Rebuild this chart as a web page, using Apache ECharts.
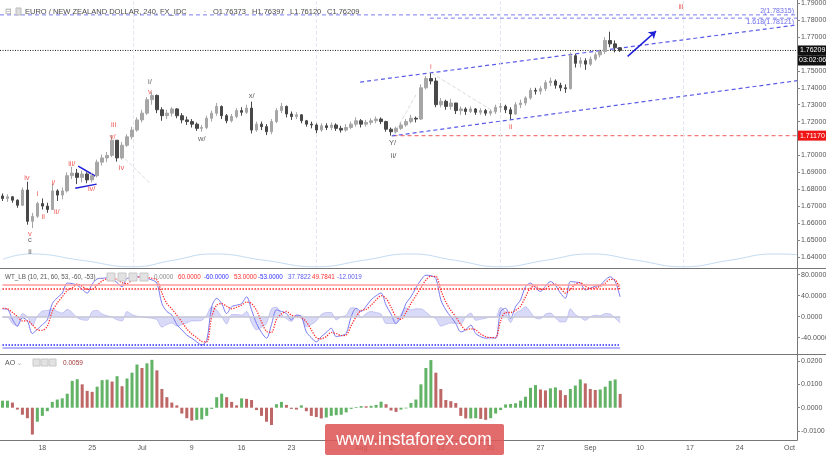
<!DOCTYPE html>
<html>
<head>
<meta charset="utf-8">
<script src="https://cdn.jsdelivr.net/npm/echarts@6/dist/echarts.min.js"></script>
<style>
html, body { margin: 0; padding: 0; background: #fff; }
#chart { width: 826px; height: 455px; }
</style>
</head>
<body>
<div id="chart"></div>
<script>
// --- price bars (12h buckets, open = previous close) ---
const firstOpen = 1.6760;
const closes = [
  1.6745, 1.6755, 1.6735, 1.6705, 1.6795, 1.6610, 1.6640, 1.6715, 1.6700, 1.6680,
  1.6790, 1.6765, 1.6790, 1.6880, 1.6895, 1.6870, 1.6890, 1.6855, 1.6880, 1.6960,
  1.6985, 1.7000, 1.7090, 1.6985, 1.7060, 1.7110, 1.7150, 1.7210, 1.7250, 1.7330,
  1.7355, 1.7270, 1.7235, 1.7250, 1.7275, 1.7235, 1.7210, 1.7200, 1.7185, 1.7160,
  1.7165, 1.7220, 1.7250, 1.7290, 1.7235, 1.7205, 1.7230, 1.7265, 1.7255, 1.7280,
  1.7150, 1.7185, 1.7170, 1.7140, 1.7200, 1.7265, 1.7290, 1.7245, 1.7230, 1.7240,
  1.7205, 1.7185, 1.7180, 1.7150, 1.7175, 1.7165, 1.7180, 1.7160, 1.7150, 1.7165,
  1.7185, 1.7205, 1.7185, 1.7195, 1.7205, 1.7215, 1.7200, 1.7155, 1.7140, 1.7160,
  1.7180, 1.7200, 1.7220, 1.7215, 1.7400, 1.7455, 1.7440, 1.7300, 1.7320, 1.7290,
  1.7310, 1.7265, 1.7275, 1.7260, 1.7275, 1.7255, 1.7265, 1.7250, 1.7260, 1.7285,
  1.7290, 1.7270, 1.7245, 1.7300, 1.7310, 1.7340, 1.7385, 1.7380, 1.7395, 1.7430,
  1.7440, 1.7415, 1.7400, 1.7395, 1.7590, 1.7545, 1.7560, 1.7540, 1.7570, 1.7595,
  1.7615, 1.7680, 1.7660, 1.7637, 1.76209
];
const lows = [
  1.6730, 1.6725, 1.6720, 1.6690, 1.6700, 1.6590, 1.6570, 1.6630, 1.6680, 1.6660,
  1.6680, 1.6730, 1.6740, 1.6780, 1.6860, 1.6830, 1.6840, 1.6835, 1.6840, 1.6870,
  1.6940, 1.6960, 1.6990, 1.6963, 1.6975, 1.7050, 1.7095, 1.7140, 1.7195, 1.7240,
  1.7300, 1.7250, 1.7205, 1.7215, 1.7230, 1.7220, 1.7190, 1.7180, 1.7165, 1.7145,
  1.7140, 1.7155, 1.7200, 1.7235, 1.7215, 1.7190, 1.7195, 1.7220, 1.7235, 1.7245,
  1.7130, 1.7140, 1.7150, 1.7120, 1.7125, 1.7190, 1.7250, 1.7225, 1.7210, 1.7215,
  1.7190, 1.7170, 1.7160, 1.7132, 1.7140, 1.7150, 1.7150, 1.7145, 1.7135, 1.7140,
  1.7155, 1.7170, 1.7165, 1.7170, 1.7180, 1.7190, 1.7185, 1.7140, 1.7117, 1.7130,
  1.7150, 1.7170, 1.7190, 1.7195, 1.7210, 1.7390, 1.7420, 1.7285, 1.7285, 1.7270,
  1.7270, 1.7245, 1.7240, 1.7240, 1.7250, 1.7240, 1.7240, 1.7235, 1.7235, 1.7245,
  1.7255, 1.7250, 1.7215, 1.7240, 1.7280, 1.7295, 1.7330, 1.7360, 1.7360, 1.7380,
  1.7410, 1.7395, 1.7380, 1.7370, 1.7390, 1.7520, 1.7520, 1.7506, 1.7530, 1.7560,
  1.7580, 1.7600, 1.7640, 1.7610, 1.7612
];
const highs = [
  1.6775, 1.6770, 1.6760, 1.6740, 1.6810, 1.6844, 1.6660, 1.6725, 1.6745, 1.6720,
  1.6830, 1.6800, 1.6810, 1.6900, 1.6933, 1.6920, 1.6910, 1.6900, 1.6895, 1.6975,
  1.7005, 1.7020, 1.7121, 1.7090, 1.7080, 1.7125, 1.7170, 1.7225, 1.7270, 1.7345,
  1.7377, 1.7360, 1.7285, 1.7270, 1.7285, 1.7280, 1.7250, 1.7230, 1.7215, 1.7195,
  1.7180, 1.7235, 1.7265, 1.7310, 1.7295, 1.7245, 1.7245, 1.7280, 1.7285, 1.7300,
  1.7318, 1.7200, 1.7200, 1.7185, 1.7215, 1.7280, 1.7310, 1.7295, 1.7260, 1.7255,
  1.7245, 1.7210, 1.7200, 1.7190, 1.7190, 1.7190, 1.7195, 1.7190, 1.7175, 1.7185,
  1.7200, 1.7225, 1.7215, 1.7210, 1.7220, 1.7230, 1.7225, 1.7205, 1.7165, 1.7170,
  1.7195, 1.7215, 1.7240, 1.7230, 1.7420, 1.7470, 1.7486, 1.7460, 1.7340, 1.7330,
  1.7335, 1.7310, 1.7290, 1.7285, 1.7290, 1.7280, 1.7280, 1.7275, 1.7270, 1.7300,
  1.7310, 1.7300, 1.7285, 1.7315, 1.7330, 1.7350, 1.7400, 1.7400, 1.7410, 1.7445,
  1.7460, 1.7450, 1.7430, 1.7420, 1.7610, 1.7600, 1.7580, 1.7575, 1.7585, 1.7610,
  1.7625, 1.7700, 1.7732, 1.7680, 1.7640
];

// --- WT_LB oscillator ---
const wt1 = [
  15, 14, -5, -18, -2, -8, -32, -24, -15, -6,
  25, 36, 45, 64, 63, 60, 52, 45, 62, 72,
  73, 74, 72, 65, 57, 73, 74, 76, 76, 73,
  70, 64, 25, 10, 3, -15, -25, -35, -41, -48,
  -54, -45, 19, 35, 25, 6, 19, 22, 25, 38,
  13, -13, -30, -41, -15, 13, 10, 6, -6, 3,
  0, -29, -40, -48, -38, -30, -22, -38, -36, -32,
  0, 16, 10, 20, 32, 40, 45, 22, 5, -13,
  0, 25, 38, 55, 70, 79, 78, 73, 32, 13,
  0, -13, -29, -25, -16, -32, -38, -41, -40, -41,
  10, 16, -3, 19, 32, 57, 64, 55, 48, 58,
  67, 60, 45, 35, 67, 66, 64, 51, 54, 58,
  60, 70, 76, 67, 37.78
];
const wt2 = [
  16, 15, 8, 0, -8, -8, -15, -25, -26, -18,
  10, 26, 38, 50, 55, 62, 58, 52, 52, 60,
  68, 72, 73, 71, 65, 63, 70, 75, 76, 75,
  73, 70, 45, 25, 15, 3, -10, -23, -33, -40,
  -47, -48, 0, 22, 25, 20, 15, 18, 22, 28,
  25, 12, -10, -28, -30, -5, 5, 10, 3, 0,
  -2, -10, -25, -40, -42, -38, -30, -32, -36, -35,
  -17, 0, 12, 14, 22, 32, 40, 35, 18, 0,
  -5, 8, 25, 40, 55, 70, 77, 77, 50, 28,
  12, 0, -15, -25, -23, -25, -33, -38, -40, -40,
  -8, 8, 8, 12, 20, 38, 55, 58, 52, 53,
  60, 62, 55, 45, 52, 62, 65, 58, 54, 55,
  58, 64, 71, 70, 49.78
];

// --- Awesome Oscillator ---
const ao = [
  0.0030, 0.0030, 0.0022, -0.0008, -0.0030, -0.0045, -0.0115, -0.0060, -0.0035, -0.0015,
  0.0025, 0.0035, 0.0040, 0.0060, 0.0115, 0.0122, 0.0100, 0.0072, 0.0068, 0.0090,
  0.0118, 0.0120, 0.0112, 0.0135, 0.0092, 0.0125, 0.0150, 0.0185, 0.0170, 0.0190,
  0.0205, 0.0160, 0.0080, 0.0045, 0.0022, 0.0010, -0.0025, -0.0045, -0.0055, -0.0052,
  -0.0050, -0.0035, -0.0005, 0.0045, 0.0060, 0.0045, 0.0025, 0.0010, 0.0040, 0.0038,
  0.0033, -0.0010, -0.0035, -0.0060, -0.0074, 0.0015, 0.0025, 0.0012, -0.0005, -0.0008,
  0.0010, -0.0015, -0.0035, -0.0040, -0.0046, -0.0042, -0.0035, -0.0032, -0.0030, -0.0020,
  -0.0005, 0.0003, 0.0007, 0.0006, 0.0008, 0.0012, 0.0026, 0.0015, -0.0012, -0.0018,
  -0.0008, -0.0003, 0.0020, 0.0035, 0.0100, 0.0170, 0.0204, 0.0150, 0.0080, 0.0033,
  0.0028, 0.0020, -0.0035, -0.0046, -0.0046, -0.0045, -0.0048, -0.0052, -0.0045, -0.0025,
  -0.0010, 0.0014, 0.0016, 0.0019, 0.0030, 0.0047, 0.0085, 0.0097, 0.0078, 0.0074,
  0.0083, 0.0087, 0.0075, 0.0054, 0.0080, 0.0095, 0.0121, 0.0104, 0.0080, 0.0076,
  0.0078, 0.0090, 0.0115, 0.0121, 0.0059
];

// --- axes ---
const catCount = 160;
const tickIdx = [8, 18, 28, 38, 48, 58, 72, 78, 88, 98, 108, 118, 128, 138, 148, 158];
const tickText = ['18', '25', 'Jul', '9', '16', '23', 'Aug', '6', '13', '20', '27', 'Sep', '10', '17', '24', 'Oct'];
const priceTicks = [1.64, 1.65, 1.66, 1.67, 1.68, 1.69, 1.70, 1.71, 1.72, 1.73, 1.74, 1.75, 1.76, 1.77, 1.78, 1.79];
const wtTicks = [-40, 0, 40, 80];
const aoTicks = [-0.01, 0, 0.01, 0.02];

// --- drawings on the price panel (x in bar units) ---
const waveLabels = [
  [4.9, 1.6864, 'iv', 'r'], [5.5, 1.6535, 'v', 'r'], [5.5, 1.6500, 'c', 'k'], [5.5, 1.6430, 'ii', 'k'],
  [7.0, 1.6772, 'i', 'r'], [8.2, 1.6637, 'ii', 'r'], [10.2, 1.6838, 'i/', 'r'], [10.9, 1.6667, 'ii/', 'r'],
  [13.9, 1.6949, 'iii/', 'r'], [17.9, 1.6800, 'iv/', 'r'], [22.1, 1.7107, 'v/', 'r'], [22.3, 1.7180, 'iii', 'r'],
  [23.9, 1.6924, 'iv', 'r'], [29.6, 1.7373, 'v', 'r'], [29.6, 1.7436, 'i/', 'k'], [40.0, 1.7099, 'w/', 'k'],
  [50.0, 1.7351, 'x/', 'k'], [78.3, 1.7073, 'Y/', 'k'], [78.5, 1.6997, 'ii/', 'k'], [86.0, 1.7521, 'i', 'r'],
  [102.0, 1.7170, 'ii', 'r'], [136.2, 1.7876, 'iii', 'r']
];
const channelUpper = [[71.8, 1.7434], [159.5, 1.7772]];
const channelLower = [[78.15, 1.7115], [159.5, 1.7442]];
const fib200 = [[-0.5, 1.78315], [159.5, 1.78315]];
const fib1618 = [[85.8, 1.78121], [159.5, 1.78121]];
const supportLine = [[78.5, 1.7117], [159.5, 1.7117]];
const lastLine = [[-0.5, 1.76209], [159.5, 1.76209]];
const arrowLine = [[125.5, 1.7586], [131.2, 1.7735]];
const triUpper = [[15.2, 1.6937], [18.6, 1.6878]];
const triLower = [[14.6, 1.6805], [18.9, 1.6830]];
const faintLines = [
  [[22.9, 1.7030], [29.6, 1.6835]],
  [[78.5, 1.7122], [83.2, 1.7369]],
  [[86.2, 1.7486], [99.2, 1.7249]]
];
const cycleWave = [
  [0.1, 1.6385], [5.5, 1.6417], [16, 1.6379], [26.2, 1.6341], [34.2, 1.6379], [42.3, 1.6417],
  [52.7, 1.6379], [63, 1.6341], [72.4, 1.6379], [81.8, 1.6417], [90.9, 1.6379], [99.9, 1.6341],
  [109, 1.6379], [118, 1.6417], [127.4, 1.6379], [136.6, 1.6341], [145.9, 1.6379], [155.1, 1.6417],
  [159.5, 1.6413]
];
const cycleMarks = [26.2, 63, 99.9, 136.6];

const FONT = "'Liberation Sans', Arial, sans-serif";
const RED = '#e8322e', BLUE_DASH = '#5b5bea', BLK = '#333';

const cats = [];
for (let i = 0; i < catCount; i++) cats.push('c' + i);
const tickMap = {};
tickIdx.forEach((c, k) => { tickMap[c] = tickText[k]; });

const ohlc = closes.map((c, i) => [i === 0 ? firstOpen : closes[i - 1], c, lows[i], highs[i]]);
const wtDiff = wt1.map((v, i) => v - wt2[i]);

const chart = echarts.init(document.getElementById('chart'));

function drawLine(data, color, type, width, z) {
  return {
    type: 'line', xAxisIndex: 1, yAxisIndex: 0, data: data, symbol: 'none',
    lineStyle: { color: color, type: type, width: width }, silent: true, z: z || 3
  };
}
function levelLine(v, color, type, width) {
  return [{ coord: [0, v], lineStyle: { color: color, type: type, width: width } }, { coord: [124, v] }];
}
const labelOpt = { fontSize: 7, color: '#555', fontFamily: FONT };
function rightAxis(grid, min, max, ticks, digits) {
  return {
    type: 'value', gridIndex: grid, position: 'right', min: min, max: max,
    axisLine: { show: true, onZero: false, lineStyle: { color: '#777' } },
    axisTick: { show: true, length: 3, customValues: ticks, lineStyle: { color: '#888' } },
    axisLabel: Object.assign({ customValues: ticks, formatter: (v) => v.toFixed(digits), margin: 4 }, labelOpt),
    splitLine: { show: false }
  };
}

const lastSeries = drawLine(lastLine, '#222', [1, 1.5], 1);
lastSeries.markLine = {
  symbol: ['none', 'arrow'], symbolSize: 7, silent: true, label: { show: false },
  lineStyle: { color: '#1f1fd8', width: 1.5, type: 'solid' },
  data: [[{ coord: arrowLine[0] }, { coord: arrowLine[1] }]]
};

chart.setOption({
  animation: false,
  backgroundColor: '#fff',
  grid: [
    { left: 0, right: 29, top: 0, height: 269, outerBoundsMode: 'none' },
    { left: 0, right: 29, top: 269, height: 85, outerBoundsMode: 'none' },
    { left: 0, right: 29, top: 354, height: 86, outerBoundsMode: 'none' }
  ],
  xAxis: [
    { type: 'category', gridIndex: 0, data: cats, show: false },
    { type: 'value', gridIndex: 0, min: -0.5, max: catCount - 0.5, show: false },
    { type: 'category', gridIndex: 1, data: cats, show: false },
    {
      type: 'category', gridIndex: 2, data: cats,
      axisLine: { onZero: false, lineStyle: { color: '#777' } },
      axisTick: { alignWithLabel: true, length: 3, interval: (i) => tickMap[i] !== undefined, lineStyle: { color: '#888' } },
      axisLabel: Object.assign({ interval: (i) => tickMap[i] !== undefined, formatter: (v, i) => tickMap[i], margin: 5 }, labelOpt),
      splitLine: { show: false }
    }
  ],
  yAxis: [
    rightAxis(0, 1.63278, 1.791953, priceTicks, 5),
    rightAxis(1, -71.05, 90.86, wtTicks, 4),
    rightAxis(2, -0.01383, 0.0230, aoTicks, 4)
  ],
  series: [
    {
      type: 'line', xAxisIndex: 1, yAxisIndex: 0, data: cycleWave, symbol: 'none',
      smooth: 0.5, lineStyle: { color: '#c3dbf3', width: 1 }, silent: true, z: 1,
      markLine: {
        symbol: 'none', silent: true, label: { show: false },
        lineStyle: { color: '#e3e8f0', type: 'dashed', width: 1 },
        data: cycleMarks.map((v) => ({ xAxis: v }))
      }
    },
    drawLine(faintLines[0], '#dcdcdc', 'dashed', 1, 1),
    drawLine(faintLines[1], '#dcdcdc', 'dashed', 1, 1),
    drawLine(faintLines[2], '#dcdcdc', 'dashed', 1, 1),
    lastSeries,
    drawLine(supportLine, '#f27b7b', [4, 3], 1.2),
    drawLine(fib200, '#7b7bf2', [4, 3], 1),
    drawLine(fib1618, '#7b7bf2', [4, 3], 1),
    drawLine(channelUpper, BLUE_DASH, [4, 3], 1.2),
    drawLine(channelLower, BLUE_DASH, [4, 3], 1.2),
    drawLine(triUpper, '#1f1fd8', 'solid', 1.5),
    drawLine(triLower, '#1f1fd8', 'solid', 1.5),
    {
      type: 'candlestick', xAxisIndex: 0, yAxisIndex: 0, data: ohlc, barWidth: 3, z: 5,
      itemStyle: { color: '#a6a6a6', color0: '#484848', borderColor: '#a6a6a6', borderColor0: '#484848', borderWidth: 1 }
    },
    {
      type: 'scatter', xAxisIndex: 1, yAxisIndex: 0, symbol: 'circle', symbolSize: 1, z: 6,
      itemStyle: { color: 'transparent' }, silent: true,
      data: waveLabels.map((w) => ({
        value: [w[0], w[1]],
        label: { show: true, position: 'inside', formatter: w[2], color: w[3] === 'r' ? RED : BLK, fontSize: 7.5, fontFamily: FONT }
      }))
    },
    {
      type: 'line', xAxisIndex: 2, yAxisIndex: 1, data: wtDiff, symbol: 'none', smooth: 0.3,
      lineStyle: { width: 0.6, color: 'rgba(120,120,225,0.55)' },
      areaStyle: { color: 'rgba(125,125,230,0.42)', origin: 0 }, silent: true, z: 2,
      markLine: {
        symbol: 'none', silent: true, label: { show: false },
        data: [
          levelLine(0, '#c4c4d4', 'solid', 1.5),
          levelLine(60, '#ff9c9c', 'solid', 1.5),
          levelLine(53, '#ff2a2a', 'dotted', 1.5),
          levelLine(-53, '#2a2aff', 'dotted', 1.5),
          levelLine(-60, '#9c9cff', 'solid', 1.5)
        ]
      }
    },
    {
      type: 'line', xAxisIndex: 2, yAxisIndex: 1, data: wt1, symbol: 'none', smooth: 0.3,
      lineStyle: { width: 1, color: '#7a7af2' }, silent: true, z: 3
    },
    {
      type: 'line', xAxisIndex: 2, yAxisIndex: 1, data: wt2, symbol: 'none', smooth: 0.3,
      lineStyle: { width: 1.3, color: '#ff2e2e', type: 'dotted' }, silent: true, z: 4
    },
    {
      type: 'bar', xAxisIndex: 3, yAxisIndex: 2, data: ao, barWidth: 3, silent: true,
      itemStyle: { color: (p) => (p.dataIndex === 0 || ao[p.dataIndex] >= ao[p.dataIndex - 1]) ? '#62b366' : '#bd6767' }
    }
  ]
});

// --- overlay texts and tags, placed through the chart's own scales ---
const py = (v) => chart.convertToPixel({ yAxisIndex: 0 }, v);
function txt(x, y, s, color, size, align) {
  return {
    type: 'text', silent: true, z: 100,
    style: {
      text: s, x: x, y: y, fill: color, font: (size || 7) + 'px ' + FONT,
      align: align || 'left', textAlign: align || 'left', verticalAlign: 'middle', textVerticalAlign: 'middle'
    }
  };
}
function box(x, y, w, h, fill, stroke) {
  return { type: 'rect', silent: true, z: 99, shape: { x: x, y: y, width: w, height: h }, style: { fill: fill, stroke: stroke || null, lineWidth: 1 } };
}
function hline(y, x1, x2, color) {
  return { type: 'line', silent: true, z: 98, shape: { x1: x1, y1: y, x2: x2, y2: y }, style: { stroke: color, lineWidth: 1 } };
}

const yLast = py(closes[closes.length - 1]);
const ySupport = py(supportLine[0][1]);
const yFib200 = py(fib200[0][1]);
const yFib1618 = py(fib1618[0][1]);

const g = [
  hline(268.5, 0, 826, '#777'),
  hline(354.5, 0, 826, '#777'),
  // main header
  txt(5, 11.5, '⊟', '#999', 8),
  box(16, 8, 5, 7, '#ddd', '#bbb'),
  txt(25, 11.5, 'EURO / NEW ZEALAND DOLLAR, 240, FX_IDC', '#4a4a4a', 7.5),
  txt(204, 11.5, '-', '#999', 7),
  txt(213, 11.5, 'O1.76373', '#4a4a4a', 7.5),
  txt(252, 11.5, 'H1.76397', '#4a4a4a', 7.5),
  txt(290, 11.5, 'L1.76120', '#4a4a4a', 7.5),
  txt(327, 11.5, 'C1.76209', '#4a4a4a', 7.5),
  // fib captions
  txt(794, yFib200 - 3.5, '2(1.78315)', '#6a6ae8', 7, 'right'),
  txt(794, yFib1618 + 4, '1.618(1.78121)', '#6a6ae8', 7, 'right'),
  // price tags on the axis
  box(798, yLast - 5, 28, 10, '#111'),
  txt(800, yLast, '1.76209', '#fff', 7),
  box(798, yLast + 5, 28, 10, '#111'),
  txt(799, yLast + 10, '03:02:06', '#fff', 7),
  box(798, ySupport - 5, 28, 10, '#f01515'),
  txt(800, ySupport, '1.71170', '#fff', 7),
  // WT header
  txt(5, 277, 'WT_LB (10, 21, 60, 53, -60, -53)', '#555', 6.3),
  txt(98, 277, '⌄', '#999', 6),
  box(107, 273, 8, 8, '#e2e2e2', '#c8c8c8'),
  box(118, 273, 8, 8, '#e2e2e2', '#c8c8c8'),
  box(129, 273, 8, 8, '#e2e2e2', '#c8c8c8'),
  box(140, 273, 8, 8, '#e2e2e2', '#c8c8c8'),
  txt(154, 277, '0.0000', '#888', 6.3),
  txt(178, 277, '60.0000', '#ff2e2e', 6.3),
  txt(204, 277, '-60.0000', '#3030ff', 6.3),
  txt(234, 277, '53.0000', '#ff2e2e', 6.3),
  txt(258, 277, '-53.0000', '#3030ff', 6.3),
  txt(288, 277, '37.7822', '#5a5af0', 6.3),
  txt(312, 277, '49.7841', '#ff2e2e', 6.3),
  txt(337, 277, '-12.0019', '#5a5af0', 6.3),
  // AO header
  txt(5, 363, 'AO', '#555', 7),
  txt(17, 363, '⌄', '#999', 6),
  box(33, 359, 7, 7, '#e2e2e2', '#c8c8c8'),
  box(41, 359, 7, 7, '#e2e2e2', '#c8c8c8'),
  box(49, 359, 7, 7, '#e2e2e2', '#c8c8c8'),
  txt(63, 363, '0.0059', '#a03838', 6.5),
  // watermark
  { type: 'rect', silent: true, z: 120, shape: { x: 325, y: 424, width: 179, height: 31, r: 2 }, style: { fill: 'rgba(222,88,88,0.88)' } },
  txt(414, 440, 'www.instaforex.com', '#fff', 17.5, 'center')
];
g[g.length - 1].z = 121;

chart.setOption({ graphic: g });
</script>
</body>
</html>
